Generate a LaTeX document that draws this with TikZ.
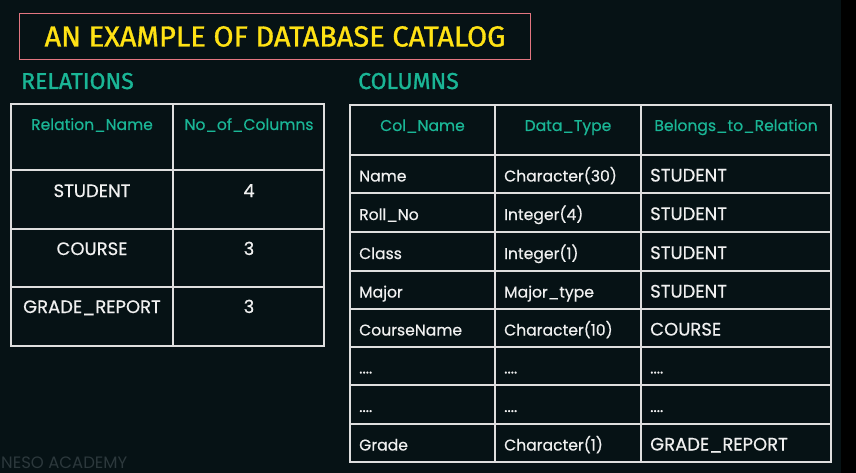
\documentclass[tikz,border=0pt]{standalone}
\usepackage{fontspec}
\setmainfont{Poppins}
\newfontfamily\cellfont{Poppins}[FakeBold=0.5]
\newfontfamily\titlefont{Fira Sans}[FakeBold=1.2]
\definecolor{bg}{RGB}{6,18,21}
\definecolor{titleyellow}{RGB}{255,226,20}
\definecolor{titlered}{RGB}{226,118,128}
\definecolor{headteal}{RGB}{26,182,150}
\definecolor{cellwhite}{RGB}{240,240,240}
\definecolor{gridgray}{RGB}{222,222,222}
\definecolor{markgray}{RGB}{44,56,60}

\tikzset{
  tbl/.style={draw=gridgray, line width=1.8pt},
  hd/.style={text=headteal, font=\cellfont\fontsize{15.6}{15.6}\selectfont, inner sep=0pt, anchor=base},
  cl/.style={text=cellwhite, font=\cellfont\fontsize{15.6}{15.6}\selectfont, inner sep=0pt, anchor=base},
  cu/.style={cl, font=\cellfont\fontsize{18}{18}\selectfont},
  cw/.style={cl, anchor=base west},
  cuw/.style={cu, anchor=base west},
  sect/.style={text=headteal, font=\titlefont\fontsize{23}{23}\selectfont, inner sep=0pt, anchor=base west}
}

\begin{document}
\begin{tikzpicture}[x=1pt,y=-1pt]
\useasboundingbox (0,0) rectangle (856,473);
\fill[bg] (0,0) rectangle (856,473);
\fill[black] (841,0) rectangle (856,473);

% title
\node[draw=titlered, line width=1.5pt, minimum width=511pt, minimum height=46pt, inner sep=0pt,
  text=titleyellow, font=\titlefont\fontsize{29}{29}\selectfont] (T) at (275,36.5) {AN EXAMPLE OF DATABASE CATALOG};
\node[sect] (REL) at (21,89) {RELATIONS};
\node[sect] (COL) at (358,89) {COLUMNS};

% relations table
\draw[tbl] (11,104) rectangle (324,346);
\draw[tbl] (173,104) -- (173,346);
\draw[tbl] (11,170) -- (324,170);
\draw[tbl] (11,229) -- (324,229);
\draw[tbl] (11,287) -- (324,287);
\node[hd] (RN) at (92,130) {Relation\_Name};
\node[hd] (RC) at (249,130) {No\_of\_Columns};
\node[cu] (R1) at (92,197) {STUDENT};
\node[cu] (R1n) at (249,197) {4};
\node[cu] (R2) at (92,255) {COURSE};
\node[cu] (R2n) at (249,255) {3};
\node[cu] (R3) at (92,313) {GRADE\_REPORT};
\node[cu] (R3n) at (249,313) {3};

% columns table
\draw[tbl] (350,105) rectangle (831,462);
\draw[tbl] (495,105) -- (495,462);
\draw[tbl] (641,105) -- (641,462);
\draw[tbl] (350,155) -- (831,155);
\draw[tbl] (350,193) -- (831,193);
\draw[tbl] (350,232) -- (831,232);
\draw[tbl] (350,271) -- (831,271);
\draw[tbl] (350,309) -- (831,309);
\draw[tbl] (350,347) -- (831,347);
\draw[tbl] (350,385) -- (831,385);
\draw[tbl] (350,424) -- (831,424);
\node[hd] (CN) at (422.5,131) {Col\_Name};
\node[hd] (DT) at (568,131) {Data\_Type};
\node[hd] (BR) at (736,131) {Belongs\_to\_Relation};
\node[cw] (C1a) at (359,181.5) {Name};
\node[cw] (C1b) at (504,181.5) {Character(30)};
\node[cuw] (C1c) at (650,181.5) {STUDENT};
\node[cw] (C2a) at (359,220) {Roll\_No};
\node[cw] (C2b) at (504,220) {Integer(4)};
\node[cuw] (C2c) at (650,220) {STUDENT};
\node[cw] (C3a) at (359,259) {Class};
\node[cw] (C3b) at (504,259) {Integer(1)};
\node[cuw] (C3c) at (650,259) {STUDENT};
\node[cw] (C4a) at (359,297.5) {Major};
\node[cw] (C4b) at (504,297.5) {Major\_type};
\node[cuw] (C4c) at (650,297.5) {STUDENT};
\node[cw] (C5a) at (359,335.5) {CourseName};
\node[cw] (C5b) at (504,335.5) {Character(10)};
\node[cuw] (C5c) at (650,335.5) {COURSE};
\node[cw] (C6a) at (359,373.5) {....};
\node[cw] (C6b) at (504,373.5) {....};
\node[cw] (C6c) at (650,373.5) {....};
\node[cw] (C7a) at (359,412) {....};
\node[cw] (C7b) at (504,412) {....};
\node[cw] (C7c) at (650,412) {....};
\node[cw] (C8a) at (359,450.5) {Grade};
\node[cw] (C8b) at (504,450.5) {Character(1)};
\node[cuw] (C8c) at (650,450.5) {GRADE\_REPORT};

% watermark
\node[text=markgray, font=\fontsize{16.5}{16.5}\selectfont, inner sep=0pt, anchor=base west] (NA) at (1,468) {NESO ACADEMY};
\end{tikzpicture}
\end{document}
